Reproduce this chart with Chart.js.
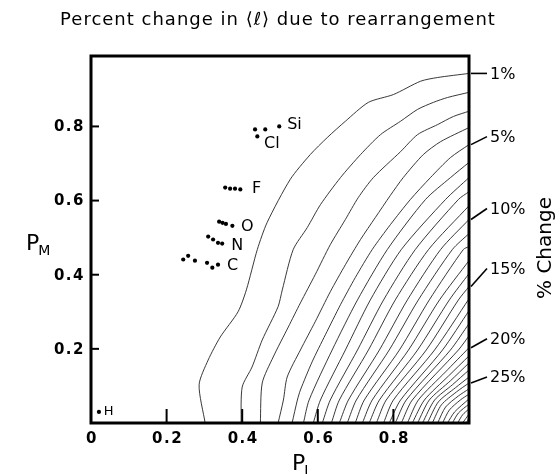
<!DOCTYPE html>
<html>
<head>
<meta charset="utf-8">
<script src="https://cdn.jsdelivr.net/npm/chart.js@4.4.0/dist/chart.umd.min.js"></script>
<style>
  html, body { margin: 0; padding: 0; background: #fff; }
</style>
</head>
<body>
<canvas id="chart1" width="560" height="474"></canvas>
<script>
// axes
var xTickValues = [0.2, 0.4, 0.6, 0.8];
var xLabelValues = [0, 0.2, 0.4, 0.6, 0.8];
var xTickLabels = ['0', '0.2', '0.4', '0.6', '0.8'];
var yTickValues = [0.2, 0.4, 0.6, 0.8];
var yTickLabels = ['0.2', '0.4', '0.6', '0.8'];

// element points (P_I, P_M)
var dotsH  = [[0.021, 0.030]];
var dotsC  = [[0.244, 0.441], [0.257, 0.451], [0.275, 0.438], [0.307, 0.432], [0.321, 0.419], [0.336, 0.427]];
var dotsN  = [[0.310, 0.503], [0.323, 0.495], [0.336, 0.486], [0.347, 0.484]];
var dotsO  = [[0.339, 0.543], [0.348, 0.540], [0.357, 0.537], [0.374, 0.532]];
var dotsF  = [[0.355, 0.635], [0.368, 0.632], [0.381, 0.632], [0.395, 0.630]];
var dotsCl = [[0.440, 0.773]];
var dotsSi = [[0.434, 0.792], [0.461, 0.792], [0.498, 0.800]];
var elemNames = ['H', 'C', 'N', 'O', 'F', 'Cl', 'Si'];
var elemLabelX = [0.034, 0.360, 0.371, 0.397, 0.426, 0.458, 0.519];
var elemLabelY = [0.030, 0.424, 0.478, 0.530, 0.632, 0.754, 0.803];

// contour lines, 1% steps, traced from bottom edge to right edge
var line1  = [[0.302,0],[0.286,0.103],[0.310,0.170],[0.342,0.232],[0.389,0.300],[0.411,0.359],[0.440,0.468],[0.466,0.541],[0.527,0.657],[0.580,0.724],[0.625,0.770],[0.673,0.814],[0.734,0.865],[0.800,0.886],[0.872,0.922],[0.917,0.932],[1,0.943]];
var line2  = [[0.397,0],[0.400,0.097],[0.426,0.151],[0.453,0.224],[0.495,0.314],[0.506,0.359],[0.535,0.468],[0.572,0.527],[0.607,0.589],[0.660,0.662],[0.713,0.724],[0.766,0.778],[0.819,0.814],[0.864,0.846],[0.906,0.865],[0.943,0.878],[1,0.892]];
var line3  = [[0.448,0],[0.453,0.108],[0.482,0.178],[0.522,0.259],[0.554,0.324],[0.593,0.400],[0.633,0.481],[0.673,0.549],[0.707,0.608],[0.747,0.662],[0.819,0.732],[0.864,0.778],[0.917,0.805],[0.959,0.827],[1,0.841]];
var line4  = [[0.495,0],[0.509,0.062],[0.519,0.124],[0.554,0.197],[0.593,0.273],[0.633,0.354],[0.673,0.427],[0.713,0.495],[0.752,0.554],[0.792,0.614],[0.826,0.662],[0.879,0.724],[0.925,0.759],[1,0.797]];
var line5  = [[0.532,0],[0.546,0.062],[0.554,0.089],[0.585,0.165],[0.620,0.238],[0.660,0.319],[0.699,0.392],[0.744,0.468],[0.792,0.535],[0.845,0.603],[0.898,0.662],[0.951,0.716],[1,0.751]];
var line6  = [[0.562,0],[0.577,0.062],[0.638,0.197],[0.705,0.332],[0.784,0.468],[0.885,0.603],[0.951,0.662],[1,0.703]];
var line7  = [[0.588,0],[0.607,0.062],[0.673,0.197],[0.739,0.332],[0.821,0.468],[0.938,0.603],[1,0.662]];
var line8  = [[0.612,0],[0.633,0.062],[0.705,0.197],[0.774,0.332],[0.858,0.468],[0.972,0.603],[1,0.624]];
var line9  = [[0.636,0],[0.657,0.062],[0.734,0.197],[0.805,0.332],[0.893,0.468],[1,0.586]];
var line10 = [[0.657,0],[0.681,0.062],[0.763,0.197],[0.837,0.332],[0.925,0.468],[1,0.549]];
var line11 = [[0.678,0],[0.702,0.062],[0.789,0.197],[0.866,0.332],[0.956,0.468],[1,0.511]];
var line12 = [[0.699,0],[0.723,0.062],[0.816,0.197],[0.895,0.332],[0.985,0.468],[1,0.476]];
var line13 = [[0.718,0],[0.744,0.062],[0.840,0.197],[0.922,0.332],[1,0.438]];
var line14 = [[0.736,0],[0.763,0.062],[0.864,0.197],[0.948,0.332],[1,0.403]];
var line15 = [[0.755,0],[0.781,0.062],[0.887,0.197],[0.972,0.332],[1,0.368]];
var line16 = [[0.774,0],[0.800,0.062],[0.909,0.197],[1,0.335]];
var line17 = [[0.789,0],[0.819,0.062],[0.930,0.197],[1,0.303]];
var line18 = [[0.805,0],[0.834,0.062],[0.951,0.197],[1,0.268]];
var line19 = [[0.821,0],[0.850,0.062],[0.972,0.197],[1,0.235]];
var line20 = [[0.837,0],[0.866,0.062],[0.938,0.138],[1,0.203]];
var line21 = [[0.850,0],[0.882,0.062],[0.946,0.127],[1,0.181]];
var line22 = [[0.864,0],[0.895,0.062],[0.951,0.114],[1,0.162]];
var line23 = [[0.877,0],[0.909,0.062],[0.956,0.103],[1,0.143]];
var line24 = [[0.890,0],[0.919,0.057],[0.964,0.095],[1,0.124]];
var line25 = [[0.903,0],[0.927,0.049],[0.967,0.084],[1,0.108]];
var line26 = [[0.917,0],[0.938,0.043],[0.972,0.073],[1,0.092]];
var line27 = [[0.930,0],[0.948,0.035],[0.977,0.062],[1,0.078]];
var line28 = [[0.943,0],[0.962,0.030],[1,0.065]];
var line29 = [[0.956,0],[0.972,0.027],[1,0.051]];
var line30 = [[0.970,0],[0.983,0.022],[1,0.038]];
var line31 = [[0.983,0],[1,0.024]];
var line32 = [[0.993,0],[1,0.014]];

// labelled contours on the right axis
var pctLabels = ['1%', '5%', '10%', '15%', '20%', '25%'];
var pctAtEdge = [0.943, 0.751, 0.549, 0.368, 0.203, 0.108];

var titleText = 'Percent change in \u27E8\u2113\u27E9 due to rearrangement';

var contourLines = [line1, line2, line3, line4, line5, line6, line7, line8, line9, line10,
  line11, line12, line13, line14, line15, line16, line17, line18, line19, line20,
  line21, line22, line23, line24, line25, line26, line27, line28, line29, line30, line31, line32];
var elemDots = [dotsH, dotsC, dotsN, dotsO, dotsF, dotsCl, dotsSi];

function pts(arr) {
  return arr.map(function (p) { return {x: p[0], y: p[1]}; });
}

var datasets = [];
contourLines.forEach(function (l) {
  datasets.push({
    data: pts(l), showLine: true, borderColor: '#222', borderWidth: 0.9,
    pointRadius: 0, tension: 0.25, fill: false
  });
});
elemDots.forEach(function (d) {
  datasets.push({
    data: pts(d), showLine: false, pointRadius: 2.1, borderWidth: 0,
    pointBackgroundColor: '#000'
  });
});

function sub(ctx, main, small, x, base) {
  ctx.textAlign = 'left';
  ctx.textBaseline = 'alphabetic';
  ctx.font = '22px "DejaVu Sans"';
  ctx.fillText(main, x, base);
  var w = ctx.measureText(main).width;
  ctx.font = '14px "DejaVu Sans"';
  ctx.fillText(small, x + w - 1, base + 5);
}

var decor = {
  id: 'decor',
  afterDatasetsDraw: function (chart) {
    var ctx = chart.ctx, a = chart.chartArea, x = chart.scales.x, y = chart.scales.y;
    ctx.save();
    ctx.strokeStyle = '#000';
    ctx.fillStyle = '#000';
    ctx.lineWidth = 3;
    ctx.strokeRect(a.left, a.top, a.right - a.left, a.bottom - a.top);

    ctx.lineWidth = 2;
    xTickValues.forEach(function (v) {
      var px = x.getPixelForValue(v);
      ctx.beginPath(); ctx.moveTo(px, a.bottom); ctx.lineTo(px, a.bottom - 14); ctx.stroke();
    });
    yTickValues.forEach(function (v) {
      var py = y.getPixelForValue(v);
      ctx.beginPath(); ctx.moveTo(a.left, py); ctx.lineTo(a.left + 8, py); ctx.stroke();
    });

    ctx.font = 'bold 15px "DejaVu Sans"';
    ctx.letterSpacing = '1.5px';
    ctx.textAlign = 'center'; ctx.textBaseline = 'middle';
    xLabelValues.forEach(function (v, i) {
      ctx.fillText(xTickLabels[i], x.getPixelForValue(v) + 1, a.bottom + 16);
    });
    ctx.textAlign = 'right';
    yTickValues.forEach(function (v, i) {
      ctx.fillText(yTickLabels[i], a.left - 6, y.getPixelForValue(v) + 1);
    });

    // title
    ctx.font = '18px "DejaVu Sans"';
    ctx.letterSpacing = '1px';
    ctx.textAlign = 'center'; ctx.textBaseline = 'alphabetic';
    ctx.fillText(titleText, 278, 25);
    ctx.letterSpacing = '0px';

    // right side labels with leaders
    var rise = [0, 8, 11, 18, 9, 6];
    ctx.lineWidth = 1.6;
    ctx.font = '16px "DejaVu Sans"';
    ctx.textAlign = 'left'; ctx.textBaseline = 'middle';
    pctAtEdge.forEach(function (v, i) {
      var py = y.getPixelForValue(v);
      ctx.beginPath(); ctx.moveTo(a.right + 2, py); ctx.lineTo(a.right + 18, py - rise[i]); ctx.stroke();
      ctx.fillText(pctLabels[i], a.right + 21, py - rise[i] + 1);
    });

    // element labels
    elemNames.forEach(function (n, i) {
      ctx.font = (n === 'H' ? '13px' : '16px') + ' "DejaVu Sans"';
      ctx.fillText(n, x.getPixelForValue(elemLabelX[i]), y.getPixelForValue(elemLabelY[i]));
    });

    // axis titles
    sub(ctx, 'P', 'M', 26, 250);
    sub(ctx, 'P', 'I', 292, 470);
    ctx.translate(546, 248);
    ctx.rotate(-Math.PI / 2);
    ctx.font = '20px "DejaVu Sans"';
    ctx.textAlign = 'center'; ctx.textBaseline = 'middle';
    ctx.fillText('% Change', 0, 0);
    ctx.restore();
  }
};

var ctx1 = document.getElementById('chart1').getContext('2d');
new Chart(ctx1, {
  type: 'scatter',
  data: { datasets: datasets },
  options: {
    responsive: false,
    animation: false,
    devicePixelRatio: 1,
    layout: { padding: { left: 91, right: 91, top: 56, bottom: 51 } },
    plugins: { legend: { display: false }, tooltip: { enabled: false }, title: { display: false } },
    scales: {
      x: { type: 'linear', min: 0, max: 1, display: false },
      y: { type: 'linear', min: 0, max: 0.99, display: false }
    }
  },
  plugins: [decor]
});
</script>
</body>
</html>
